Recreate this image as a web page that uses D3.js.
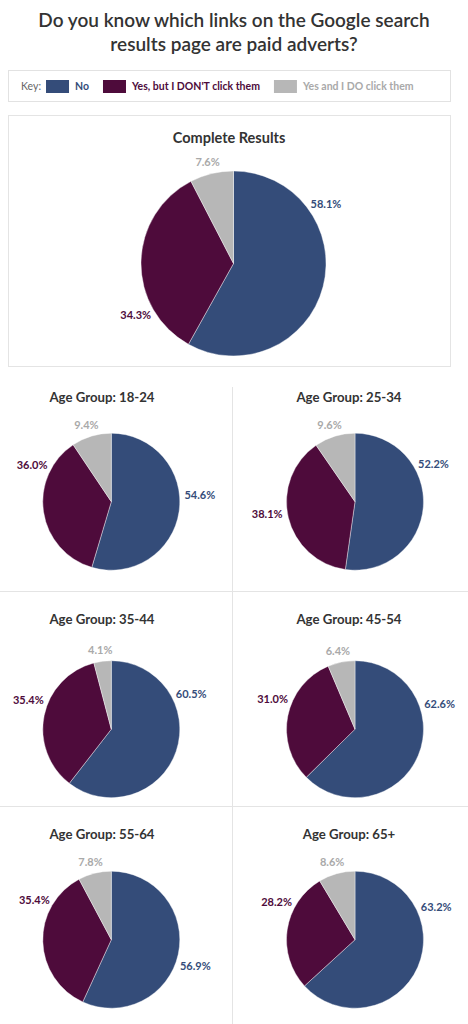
<!DOCTYPE html>
<html>
<head>
<meta charset="utf-8">
<script src="https://cdn.jsdelivr.net/npm/d3@7"></script>
<style>
  body { margin: 0; background: #fff; }
  svg { display: block; font-family: Lato, "Open Sans", sans-serif; }
</style>
</head>
<body>
<div id="chart"></div>
<script>
// answers and colours
const answers = ["No", "Yes, but I DON'T click them", "Yes and I DO click them"];
const sliceColors = ["#344c79", "#4e0b3b", "#b7b7b7"];
const labelColors = ["#344c79", "#4e0b3b", "#a9a9a9"];

// chart titles
const titleLines = ["Do you know which links on the Google search", "results page are paid adverts?"];
const groups = ["Age Group: 18-24", "Age Group: 25-34", "Age Group: 35-44",
                "Age Group: 45-54", "Age Group: 55-64", "Age Group: 65+"];

// percentages per answer (No, Yes-don't-click, Yes-do-click)
const complete = [58.1, 34.3, 7.6];
const age18to24 = [54.6, 36.0, 9.4];
const age25to34 = [52.2, 38.1, 9.6];
const age35to44 = [60.5, 35.4, 4.1];
const age45to54 = [62.6, 31.0, 6.4];
const age55to64 = [56.9, 35.4, 7.8];
const age65plus = [63.2, 28.2, 8.6];
const ageValues = [age18to24, age25to34, age35to44, age45to54, age55to64, age65plus];

// label placement angles in degrees (null = middle of the slice)
const completeLabelAngles = [55, 240, null];
const ageLabelAngles = [
    [85, 297, null], [62, 261, null],
    [64, 291, null], [72, 292, null],
    [109, 300, null], [66, 298, null]
];

const W = 468, H = 1024;
const svg = d3.select("#chart").append("svg")
    .attr("width", W).attr("height", H);

// title
svg.append("g").selectAll("text").data(titleLines).join("text")
    .attr("x", 234)
    .attr("y", (d, i) => 27 + i * 24)
    .attr("text-anchor", "middle")
    .attr("fill", "#333")
    .style("font-size", "19px")
    .style("font-weight", 600)
    .text(d => d);

// legend
const legend = svg.append("g");
legend.append("rect")
    .attr("x", 8.5).attr("y", 70.5).attr("width", 442).attr("height", 31)
    .attr("fill", "#fff").attr("stroke", "#e2e2e2");
let lx = 21;
const keyText = legend.append("text")
    .attr("x", lx).attr("y", 86).attr("dy", "0.35em")
    .attr("fill", "#666").style("font-size", "10.5px")
    .text("Key:");
lx += keyText.node().getComputedTextLength() + 5;
answers.forEach((a, i) => {
    legend.append("rect")
        .attr("x", lx).attr("y", 80).attr("width", 23).attr("height", 13)
        .attr("fill", sliceColors[i]);
    lx += 29;
    const t = legend.append("text")
        .attr("x", lx).attr("y", 86.5).attr("dy", "0.35em")
        .attr("fill", labelColors[i])
        .style("font-size", "10.5px").style("font-weight", 700)
        .text(a);
    lx += t.node().getComputedTextLength() + 14;
});

// complete results box
svg.append("rect")
    .attr("x", 8.5).attr("y", 115.5).attr("width", 442).attr("height", 251)
    .attr("fill", "none").attr("stroke", "#e4e4e4");

// grid lines between age charts
const grid = svg.append("g").attr("stroke", "#e4e4e4");
grid.append("line").attr("x1", 232.5).attr("x2", 232.5).attr("y1", 387).attr("y2", H);
[591.5, 806.5].forEach(y => grid.append("line").attr("x1", 0).attr("x2", W).attr("y1", y).attr("y2", y));

const pie = d3.pie().sort(null).value(d => d);

function drawPie(g, values, title, angles, opts) {
    g.append("text")
        .attr("x", opts.tx).attr("y", opts.ty)
        .attr("text-anchor", "middle")
        .attr("fill", "#333")
        .style("font-size", opts.titleSize)
        .style("font-weight", 700)
        .text(title);

    const arc = d3.arc().innerRadius(0).outerRadius(opts.r);
    const pg = g.append("g").attr("transform", `translate(${opts.cx},${opts.cy})`);
    const arcs = pie(values);

    pg.selectAll("path").data(arcs).join("path")
        .attr("d", arc)
        .attr("fill", (d, i) => sliceColors[i])
        .attr("stroke", "#fff")
        .attr("stroke-width", 0.4);

    pg.selectAll("text").data(arcs).join("text")
        .attr("text-anchor", "middle")
        .attr("dy", "0.35em")
        .attr("fill", (d, i) => labelColors[i])
        .style("font-size", opts.labelSize)
        .style("font-weight", 700)
        .text(d => d.data.toFixed(1) + "%")
        .each(function (d, i) {
            const a = angles[i] == null ? (d.startAngle + d.endAngle) / 2 : angles[i] * Math.PI / 180;
            const b = this.getBBox();
            const rr = opts.r + 5;
            const x = Math.sin(a) * (rr + b.width / 2);
            const y = -Math.cos(a) * (rr + b.height / 2);
            d3.select(this).attr("x", x).attr("y", y);
        });
}

drawPie(svg.append("g"), complete, "Complete Results", completeLabelAngles,
    { tx: 229, ty: 143, cx: 233.5, cy: 263.5, r: 92.5, titleSize: "14.5px", labelSize: "11px" });

// two-column grid of age charts
const colPie = [111.3, 355], colTitle = [102, 349];
const rowTitle = [402, 624, 839], rowPie = [501.7, 729.2, 939.7];
ageValues.forEach((vals, i) => {
    const col = i % 2, row = Math.floor(i / 2);
    drawPie(svg.append("g"), vals, groups[i], ageLabelAngles[i],
        { tx: colTitle[col], ty: rowTitle[row], cx: colPie[col], cy: rowPie[row], r: 68.5,
          titleSize: "13.2px", labelSize: "11px" });
});
</script>
</body>
</html>
